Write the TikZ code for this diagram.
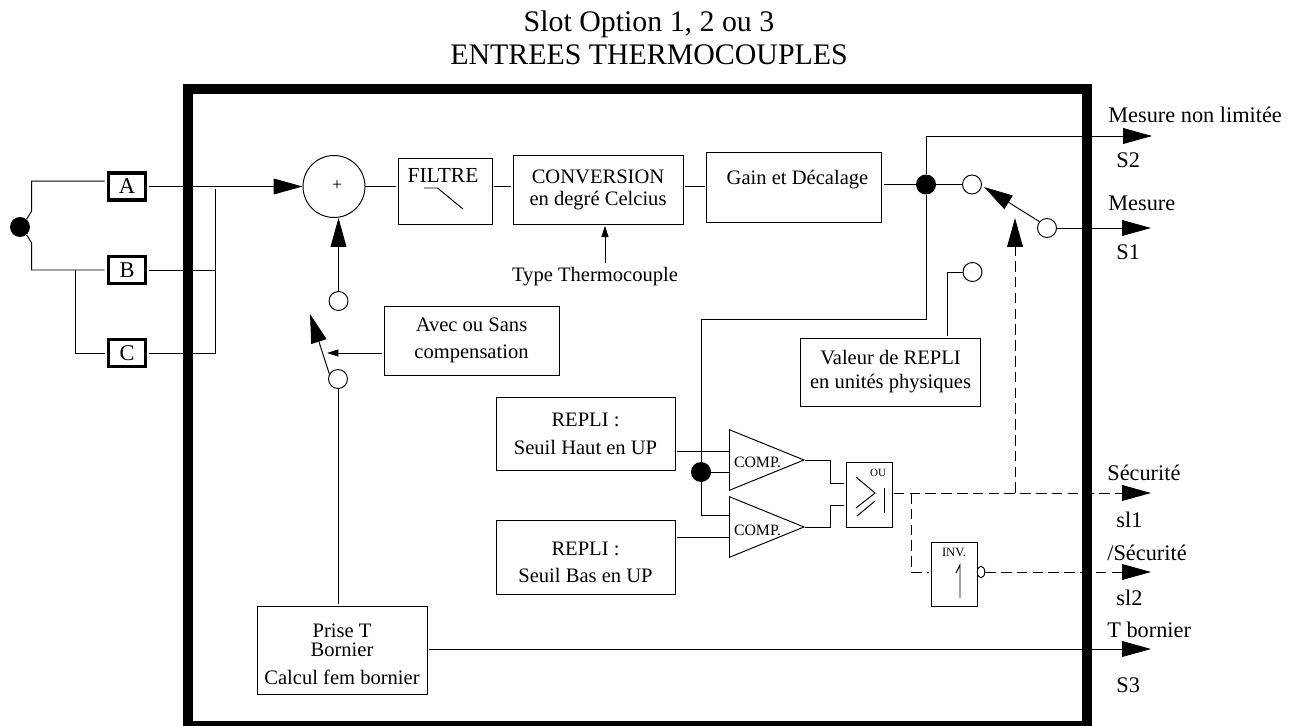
\documentclass[tikz,border=0pt]{standalone}
\usepackage{fontspec}
\setmainfont{Liberation Serif}
\usetikzlibrary{arrows.meta,calc,shapes.geometric}

\begin{document}
\begin{tikzpicture}[
    x=0.02cm, y=-0.02cm,
    fil/.style={line width=0.55pt},
    arr/.style={fil, -{Triangle[length=16.5pt,width=9pt]}},
    sarr/.style={fil, -{Triangle[length=6.5pt,width=4pt]}},
    darr/.style={arr, dash pattern=on 6pt off 3pt},
    dfil/.style={fil, dash pattern=on 6pt off 3pt},
    frame/.style={draw, line width=5.7pt},
    txt/.style={inner sep=0pt, font=\fontsize{11.7}{14}\selectfont},
    sortie/.style={inner sep=0pt, anchor=west, font=\fontsize{12.7}{14}\selectfont},
    box/.style={draw, fil, inner sep=0pt, outer sep=1pt, align=center, fill=white, font=\fontsize{11.7}{14}\selectfont},
    term/.style={draw, line width=1.9pt, inner sep=0pt, outer sep=2pt, minimum width=0.75cm, minimum height=0.54cm, font=\fontsize{12.8}{14}\selectfont},
    pt/.style={circle, draw, fil, fill=white, inner sep=0pt, minimum size=0.38cm},
    dot/.style={circle, fill=black, inner sep=0pt, minimum size=0.4cm},
    comp/.style={isosceles triangle, isosceles triangle stretches, draw, fil, inner sep=0pt, shape border rotate=0, minimum width=1.21cm, minimum height=1.49cm},
    petit/.style={inner sep=0pt, font=\fontsize{9}{10}\selectfont}
]
\useasboundingbox (0,0) rectangle (1294,726);
\clip (0,0) rectangle (1294,726);

% ---------- titre ----------
\node[inner sep=0pt, align=center, font=\fontsize{17}{18.7}\selectfont] (titre) at (649,38)
{Slot Option 1, 2 ou 3\\ENTREES THERMOCOUPLES};

% ---------- cadre ----------
\draw[frame] (188,89) rectangle (1087,726);

% ---------- entrees ----------
\node[dot] (dotin) at (20,227) {};
\node[term] (A) at (127,186.5) {A};
\node[term] (B) at (127,270) {B};
\node[term] (C) at (127,353) {C};
\coordinate (jbc) at (75,269.5);
\coordinate (bus) at (215,189);

\draw[fil] (dotin.50) -- ++(5,-8) |- ([yshift=3pt]A.west);
\draw[fil] (dotin.-50) -- ++(5,8) |- (B.west);
\draw[fil] (jbc) |- (C.west);
\draw[fil] (B.east) -- (B.east -| bus);
\draw[fil] (C.east) -| (bus);

% ---------- ligne du haut ----------
\node[circle, draw, fil, inner sep=0pt, minimum size=1.24cm] (somme) at (334,186.5) {};
\node[inner sep=0pt, font=\fontsize{10}{11}\selectfont] (plus) at (337,186) {+};
\node[box, minimum width=1.88cm, minimum height=1.32cm] (filtre) at (445,191) {};
\node[txt, font=\fontsize{12.2}{14}\selectfont] (tfiltre) at (443,175) {FILTRE};
\node[box, minimum width=3.4cm, minimum height=1.38cm, font=\fontsize{11.7}{12.5}\selectfont] (conv) at (598,189.5)
{CONVERSION\\en degré Celcius};
\node[box, minimum width=3.51cm, minimum height=1.4cm] (gain) at (794,187) {};
\node[txt] (tgain) at (797.5,180) {Gain et Décalage};
\node[txt] (type) at (595,277) {Type Thermocouple};
\coordinate (typ) at (605,263);

\draw[fil] (424,188) -- (437.5,188) -- (463,209);

\draw[arr] (A.east) -- (somme.west);
\draw[fil] (somme.east) -- (somme.east -| filtre.west);
\draw[fil] (somme.east -| filtre.east) -- (somme.east -| conv.west);
\draw[fil] (somme.east -| conv.east) -- (somme.east -| gain.west);
\draw[sarr] (typ) -- (typ |- conv.south);

% ---------- compensation ----------
\node[pt] (c2h) at (338.5,301) {};
\node[pt] (c2b) at (338,379) {};
\node[box, minimum width=3.5cm, minimum height=1.38cm, font=\fontsize{11.7}{15.3}\selectfont] (avec) at (471.5,340.5)
{Avec ou Sans\\compensation};
\node[box, minimum width=3.4cm, minimum height=1.76cm] (prise) at (342,650) {};
\node[txt, align=center, font=\fontsize{11.7}{10.8}\selectfont] (tprise) at (342,640.5) {Prise T\\Bornier};
\node[txt] (tcalcul) at (342,677) {Calcul fem bornier};
\coordinate (lev1) at (310,314);
\coordinate (levm) at (327,353);

\draw[arr] (c2h.north) -- (c2h.north |- somme.south);
\draw[arr] (c2b.150) -- (lev1);
\draw[sarr] (avec.west |- levm) -- (levm);
\draw[fil] (c2b) -- (c2b |- prise.north);

% ---------- sorties S2, S1 ----------
\node[dot] (dotg) at (926,184.5) {};
\node[pt] (c1) at (972,184.5) {};
\node[pt] (c4) at (1047,228) {};
\node[pt] (c3) at (972.5,272) {};
\node[box, minimum width=3.61cm, minimum height=1.36cm, font=\fontsize{11.7}{13.6}\selectfont] (valeur) at (890.5,372)
{Valeur de REPLI\\en unités physiques};
\coordinate (s2) at (1152,136);
\coordinate (s1) at (1151,228);
\coordinate (lev2) at (984,187);

\draw[fil] (gain.east |- dotg) -- (dotg);
\draw[fil] (dotg) -- (c1);
\draw[arr] (dotg) |- (s2);
\draw[arr] (c4.140) -- (lev2);
\draw[arr] (c4.east) -- (s1);
\draw[fil] (c3.west) -| ([xshift=32.3pt]valeur.north);

% ---------- comparateurs ----------
\node[box, minimum width=3.58cm, minimum height=1.46cm, font=\fontsize{11.7}{15.8}\selectfont] (rephaut) at (585.5,433.5)
{REPLI :\\Seuil Haut en UP};
\node[box, minimum width=3.58cm, minimum height=1.48cm] (repbas) at (585.5,557) {};
\node[txt, align=center, font=\fontsize{11.7}{15.3}\selectfont] (trepbas) at (585.5,562.5) {REPLI :\\Seuil Bas en UP};
\node[dot] (dotc) at (701,472) {};
\node[comp, anchor=lower side] (comp1) at (729,460) {};
\node[comp, anchor=lower side] (comp2) at (729,527) {};
\node[petit] (tcomp1) at (757.5,462) {COMP.};
\node[petit] (tcomp2) at (757.5,530) {COMP.};
\node[box, minimum width=0.92cm, minimum height=1.3cm] (ou) at (869,494.5) {};
\node[inner sep=0pt, font=\fontsize{6.3}{7}\selectfont] (tou) at (878,473) {OU};
\coordinate (e11) at (729,451);
\coordinate (e12) at (729,472);
\coordinate (e21) at (729,515);
\coordinate (e22) at (729,537);

\draw[fil] (856,477) -- (875,493) -- (856,508);
\draw[fil] (857,516) -- (875,501);
\draw[fil] (884,488) -- (884,513);

\draw[fil] (dotg) -- ++(0,134.5) -| (dotc);
\draw[fil] (e11 -| rephaut.east) -- (e11);
\draw[fil] (dotc) -- (e12);
\draw[fil] (dotc) |- (e21);
\draw[fil] (e22 -| repbas.east) -- (e22);
\draw[fil] (comp1.apex) -- ++(25.5,0) |- ([yshift=6pt]ou.west);
\draw[fil] (comp2.apex) -- ++(25.5,0) |- ([yshift=-6pt]ou.west);

% ---------- securite ----------
\node[box, minimum width=0.92cm, minimum height=1.28cm] (inv) at (954,574) {};
\node[inner sep=0pt, font=\fontsize{7.2}{8}\selectfont] (tinv) at (954,552) {INV.};
\node[ellipse, draw, fil, fill=white, inner sep=0pt, minimum width=0.15cm, minimum height=0.23cm] (neg) at (981,572) {};
\coordinate (sl1) at (1151,493);
\coordinate (sl2) at (1151,572);
\coordinate (jd) at (911,493);
\coordinate (js) at (1015,493);
\coordinate (swt) at (1015,218);

\draw[fil] (956,573) -- (960,565) -- (960,598);

\draw[darr] (ou.east |- sl1) -- (sl1);
\draw[dfil] (jd) |- (sl2 -| inv.west);
\draw[darr] (neg.east) -- (sl2);
\draw[darr] (js) -- (swt);

% ---------- T bornier ----------
\coordinate (s3) at (1151,649);
\draw[arr] (prise.east |- s3) -- (s3);

% ---------- etiquettes ----------
\node[sortie] (lmesnl) at (1108,115) {Mesure non limitée};
\node[sortie] (ls2) at (1116,160) {S2};
\node[sortie] (lmes) at (1108,203) {Mesure};
\node[sortie] (ls1) at (1116,252) {S1};
\node[sortie] (lsec) at (1107,473) {Sécurité};
\node[sortie] (lsl1) at (1116,520) {sl1};
\node[sortie] (lnsec) at (1107,553) {/Sécurité};
\node[sortie] (lsl2) at (1116,598) {sl2};
\node[sortie] (ltb) at (1107,630) {T bornier};
\node[sortie] (ls3) at (1116,685) {S3};

\end{tikzpicture}
\end{document}
